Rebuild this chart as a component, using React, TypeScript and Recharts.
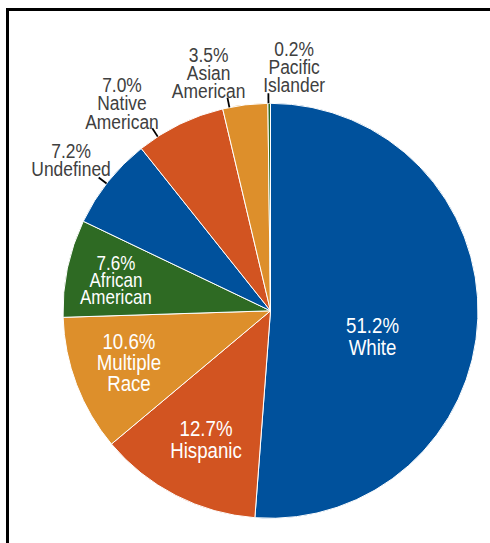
import { Cell, Pie, PieChart } from 'recharts';

const CATEGORIES = [
    'White',
    'Hispanic',
    'Multiple Race',
    'African American',
    'Undefined',
    'Native American',
    'Asian American',
    'Pacific Islander',
];
const SHARES = [51.2, 12.7, 10.6, 7.6, 7.2, 7.0, 3.5, 0.2];

const COLORS = ['#00519c', '#d25421', '#dd8f2b', '#2e6a23', '#00519c', '#d25421', '#dd8f2b', '#2e6a23'];

// label placement per slice: radius as a fraction of the pie radius, angle shift from the slice middle
const LABEL_LAYOUT = [
    { inside: true, rf: 0.506, shift: -11.4, size: 22.5, pitch: 22 },
    { inside: true, rf: 0.692, shift: 0.5, size: 22.5, pitch: 22 },
    { inside: true, rf: 0.725, shift: -1.1, size: 22.5, pitch: 21 },
    { inside: true, rf: 0.76, shift: 0.5, size: 20.5, pitch: 17 },
    { inside: false, rf: 1.207, shift: 1.3, size: 21, pitch: 17.5, lineShift: 0.7 },
    { inside: false, rf: 1.232, shift: 9.6, size: 21, pitch: 18.5, lineShift: 7 },
    { inside: false, rf: 1.189, shift: 7.5, size: 21, pitch: 18, lineShift: 4.4 },
    { inside: false, rf: 1.181, shift: -5.9, size: 21, pitch: 18, lineShift: 0.2 },
];

const data = CATEGORIES.map((name, i) => ({ name, value: SHARES[i] }));

const FONT = "'Liberation Sans', Arial, sans-serif";
const NARROW = 0.83;
const RAD = Math.PI / 180;

function polar(cx: number, cy: number, r: number, angle: number) {
    return [cx + r * Math.cos(-angle * RAD), cy + r * Math.sin(-angle * RAD)];
}

function renderLabel(props: any) {
    const { cx, cy, midAngle, outerRadius, index } = props;
    const layout = LABEL_LAYOUT[index];
    const [x, y] = polar(cx, cy, outerRadius * layout.rf, midAngle + layout.shift);
    const lines = [`${SHARES[index].toFixed(1)}%`, ...CATEGORIES[index].split(' ')];
    const first = y - ((lines.length - 1) * layout.pitch) / 2 + layout.size * 0.36;

    let leader = null;
    if (!layout.inside) {
        const a = midAngle + (layout.lineShift ?? 0);
        const [x1, y1] = polar(cx, cy, outerRadius, a);
        const [x2, y2] = polar(cx, cy, outerRadius + 10, a);
        leader = <line x1={x1} y1={y1} x2={x2} y2={y2} stroke="#000" strokeWidth={1.8} />;
    }

    return (
        <g key={`label-${index}`}>
            {leader}
            <g transform={`translate(${x} 0) scale(${NARROW} 1)`}>
                <text
                    x={0}
                    y={first}
                    textAnchor="middle"
                    fontFamily={FONT}
                    fontSize={layout.size}
                    fill={layout.inside ? '#ffffff' : '#404040'}
                >
                    {lines.map((line, i) => (
                        <tspan key={i} x={0} y={first + i * layout.pitch}>
                            {line}
                        </tspan>
                    ))}
                </text>
            </g>
        </g>
    );
}

export default function App() {
    return (
        <div
            style={{
                position: 'fixed',
                left: 0,
                top: 0,
                width: 490,
                height: 543,
                overflow: 'hidden',
                background: '#fff',
            }}
        >
            <div
                style={{
                    position: 'absolute',
                    left: 6,
                    top: 8,
                    width: 520,
                    height: 600,
                    borderTop: '3px solid #000',
                    borderLeft: '3px solid #000',
                }}
            />
            <div style={{ position: 'absolute', left: 0, top: 0 }}>
                <PieChart width={490} height={543} margin={{ top: 0, right: 0, bottom: 0, left: 0 }}>
                    <Pie
                        data={data}
                        dataKey="value"
                        nameKey="name"
                        cx={270.5}
                        cy={310.8}
                        innerRadius={0}
                        outerRadius={207.5}
                        startAngle={90}
                        endAngle={-270}
                        stroke="#ffffff"
                        strokeWidth={1}
                        labelLine={false}
                        label={renderLabel}
                        isAnimationActive={false}
                    >
                        {data.map((d, i) => (
                            <Cell key={d.name} fill={COLORS[i]} />
                        ))}
                    </Pie>
                </PieChart>
            </div>
        </div>
    );
}
